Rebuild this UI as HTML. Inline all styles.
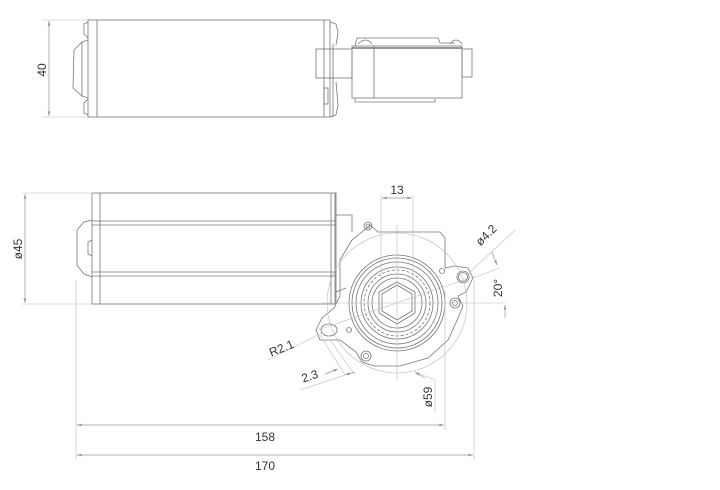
<!DOCTYPE html>
<html><head><meta charset="utf-8"><style>
html,body{margin:0;padding:0;background:#fff;}
svg{display:block;}
text{font-family:"Liberation Sans",sans-serif;font-size:12px;fill:#333;}
</style></head><body>
<svg width="720" height="490" viewBox="0 0 720 490" xmlns="http://www.w3.org/2000/svg">
<defs>
<marker id="a" viewBox="0 0 10 6" refX="10" refY="3" markerWidth="8" markerHeight="4" orient="auto-start-reverse"><path d="M0,0L10,3L0,6z" fill="#999"/></marker>
</defs>
<g fill="none" stroke="#777" stroke-width="0.8">
<rect x="88" y="20" width="242" height="97"/>
<line x1="97" y1="20" x2="97" y2="117"/>
<line x1="324" y1="20" x2="324" y2="117"/>
<path d="M88,22 L84,24 L84,34 L88,38 M88,115 L84,113 L84,103 L88,99"/>
<path d="M88,40 L82,42 L74,50 L73,88 L82,96 L88,98"/>
<line x1="82" y1="42" x2="82" y2="96"/>
<path d="M330,22 L336,24 L338,32 L336,45 M336,82 L338,105 L336,115 L330,117"/>
<line x1="333" y1="44" x2="333" y2="117"/>
<rect x="316" y="49" width="36" height="29"/>
<rect x="352" y="46" width="110" height="52"/>
<line x1="352" y1="48" x2="462" y2="48" stroke-width="1.5"/>
<line x1="374" y1="46" x2="374" y2="98"/>
<rect x="462" y="49" width="10" height="28"/>
<path d="M355,46 L357,38 L438,38 L440,43 L455,43 M355,98 L355,102 L435,102 L435,99"/>
<path d="M358,44 Q366,36 372,44 M450,44 Q456,36 462,44"/>
<rect x="324" y="88" width="4" height="16"/>
<rect x="92" y="193" width="244" height="111"/>
<line x1="100" y1="193" x2="100" y2="304"/>
<line x1="331" y1="193" x2="331" y2="304"/>
<line x1="335" y1="193" x2="335" y2="304"/>
<line x1="92" y1="221" x2="336" y2="221"/>
<line x1="92" y1="225" x2="336" y2="225"/>
<line x1="92" y1="272" x2="336" y2="272"/>
<line x1="92" y1="276" x2="336" y2="276"/>
<path d="M92,220 L84,222 L77,230 L77,265 L84,274 L92,277"/>
<path d="M92,240 L88,242 L88,254 L92,256"/>
<path d="M336,215 L352,215 L352,232 M336,292 L346,288"/>
<path d="M346,250 L352,240 L362,232 L370,225 L378,232 L440,232 L445,238 L445,268 L455,266 L468,268 L473,278 L466,292 L458,296 L463,306 L458,318 L448,340 L428,358 L400,366 L374,366 L362,362 L356,352 L340,340 L320,340 L316,330 L322,318 L334,308 L340,296 L340,260 Z"/>
<circle cx="368" cy="226" r="4"/><circle cx="368" cy="226" r="2"/>
<circle cx="463" cy="277" r="6"/><circle cx="463" cy="277" r="4.5"/>
<circle cx="455" cy="303" r="5"/><circle cx="455" cy="303" r="2.5"/>
<circle cx="366" cy="356" r="5"/><circle cx="366" cy="356" r="2.5"/>
<ellipse cx="329" cy="330" rx="8" ry="6"/>
<circle cx="349" cy="330" r="2.5"/><circle cx="442" cy="271" r="2.5"/>
<circle cx="397" cy="303" r="48"/>
<circle cx="397" cy="303" r="45"/>
<circle cx="397" cy="303" r="41"/>
<circle cx="397" cy="303" r="36"/>
<circle cx="397" cy="303" r="33" stroke-dasharray="3 2"/>
<circle cx="397" cy="303" r="29"/>
<circle cx="397" cy="303" r="25"/>
<path d="M397,282 L415,292 L415,313 L397,324 L379,313 L379,292 Z"/>
<path d="M397,285 L412,294 L412,311 L397,320 L382,311 L382,294 Z"/>
</g>
<g fill="none" stroke="#bbb" stroke-width="0.6">
<circle cx="397" cy="303" r="70"/>
<line x1="322" y1="303" x2="505" y2="303"/>
<line x1="397" y1="225" x2="397" y2="380"/>
<line x1="318" y1="330" x2="475" y2="276"/>
<line x1="381" y1="195" x2="381" y2="280"/>
<line x1="413" y1="195" x2="413" y2="280"/>
<line x1="468" y1="274" x2="515" y2="230"/>
<line x1="473" y1="278" x2="500" y2="268"/>
<line x1="42" y1="20" x2="88" y2="20"/><line x1="42" y1="117" x2="88" y2="117"/>
<line x1="22" y1="193" x2="92" y2="193"/><line x1="22" y1="304" x2="92" y2="304"/>
<line x1="76" y1="280" x2="76" y2="460"/>
<line x1="445" y1="290" x2="445" y2="430"/>
<line x1="474" y1="280" x2="474" y2="460"/>
<line x1="320" y1="335" x2="345" y2="375"/>
<line x1="330" y1="340" x2="355" y2="375"/>
<line x1="268" y1="360" x2="322" y2="333"/>
<line x1="300" y1="390" x2="345" y2="375"/>
<line x1="415" y1="372" x2="435" y2="380"/><line x1="435" y1="380" x2="435" y2="412"/>
</g>
<g stroke="#999" stroke-width="0.7" fill="none">
<line x1="49" y1="21" x2="49" y2="116" marker-start="url(#a)" marker-end="url(#a)"/>
<line x1="25" y1="194" x2="25" y2="303" marker-start="url(#a)" marker-end="url(#a)"/>
<line x1="77" y1="425" x2="444" y2="425" marker-start="url(#a)" marker-end="url(#a)"/>
<line x1="77" y1="455" x2="473" y2="455" marker-start="url(#a)" marker-end="url(#a)"/>
<line x1="382" y1="198" x2="412" y2="198" marker-start="url(#a)" marker-end="url(#a)"/>
<line x1="492" y1="252" x2="497" y2="265" marker-end="url(#a)"/>
<line x1="505" y1="318" x2="505" y2="305" marker-end="url(#a)"/>
<line x1="325" y1="374" x2="338" y2="369" marker-end="url(#a)"/>
<line x1="355" y1="372" x2="345" y2="375" marker-end="url(#a)"/>
<line x1="425" y1="378" x2="415" y2="372" marker-end="url(#a)"/>
</g>
<text x="0" y="0" transform="translate(46,70) rotate(-90)" text-anchor="middle">40</text>
<text x="0" y="0" transform="translate(22,249) rotate(-90)" text-anchor="middle">ø45</text>
<text x="397" y="194" text-anchor="middle">13</text>
<text x="0" y="0" transform="translate(489,238) rotate(-45)" text-anchor="middle">ø4.2</text>
<text x="0" y="0" transform="translate(502,288) rotate(-90)" text-anchor="middle">20°</text>
<text x="0" y="0" transform="translate(283,352) rotate(-22)" text-anchor="middle">R2.1</text>
<text x="0" y="0" transform="translate(311,380) rotate(-18)" text-anchor="middle">2.3</text>
<text x="0" y="0" transform="translate(432,397) rotate(-90)" text-anchor="middle">ø59</text>
<text x="265" y="441" text-anchor="middle">158</text>
<text x="265" y="470" text-anchor="middle">170</text>
</svg>
</body></html>
